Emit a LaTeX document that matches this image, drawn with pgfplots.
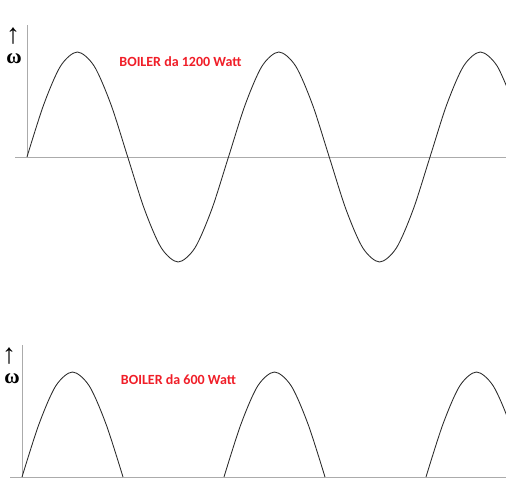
\documentclass[border=0pt]{standalone}
\usepackage{pgfplots}
\pgfplotsset{compat=1.18}
\usepackage{fontspec}
\setmainfont{Liberation Serif}
\newfontfamily\labelfont{Carlito}
\definecolor{curve}{HTML}{2A2A2A}
\definecolor{axisgray}{HTML}{ABABAB}
\definecolor{boilerred}{HTML}{F01E28}

\pgfplotsset{
  wave/.style={scale only axis, anchor=south west, hide axis, clip=true},
  onda/.style={curve, line width=0.85pt, smooth, no marks},
}

\begin{document}
\begin{tikzpicture}[x=1pt,y=1pt]
\path (0,0) rectangle (506,500);

% 1200 W: full sine
\begin{axis}[wave, at={(15pt,227.5pt)}, width=491pt, height=247.8pt,
  xmin=-21.4, xmax=855.8, ymin=-1.1, ymax=1.26]
  \draw[axisgray, line width=0.9pt] (axis cs:-21.4,0) -- (axis cs:855.8,0);
  \draw[axisgray, line width=0.9pt] (axis cs:0,0) -- (axis cs:0,1.257);
  \addplot[onda] coordinates {
    (0,0) (30,0.5) (60,0.866) (90,1) (120,0.866) (150,0.5)
    (180,0) (210,-0.5) (240,-0.866) (270,-1) (300,-0.866) (330,-0.5)
    (360,0) (390,0.5) (420,0.866) (450,1) (480,0.866) (510,0.5)
    (540,0) (570,-0.5) (600,-0.866) (630,-1) (660,-0.866) (690,-0.5)
    (720,0) (750,0.5) (780,0.866) (810,1) (840,0.866) (870,0.5)
  };
\end{axis}

% 600 W: half wave
\begin{axis}[wave, at={(10pt,12.5pt)}, width=496pt, height=142.8pt,
  xmin=-21.4, xmax=862.6, ymin=-0.1, ymax=1.26]
  \draw[axisgray, line width=0.9pt] (axis cs:-21.4,0) -- (axis cs:862.6,0);
  \draw[axisgray, line width=0.9pt] (axis cs:0,0) -- (axis cs:0,1.257);
  \addplot[onda] coordinates {
    (0,0) (30,0.5) (60,0.866) (90,1) (120,0.866) (150,0.5) (180,0)
  };
  \addplot[onda] coordinates {
    (360,0) (390,0.5) (420,0.866) (450,1) (480,0.866) (510,0.5) (540,0)
  };
  \addplot[onda] coordinates {
    (720,0) (750,0.5) (780,0.866) (810,1) (840,0.866) (870,0.5) (900,0)
  };
\end{axis}

% labels
\node[text=boilerred, font=\labelfont\bfseries\fontsize{14}{16}\selectfont]
  at (180.5,438) {BOILER da 1200 Watt};
\node[text=boilerred, font=\labelfont\bfseries\fontsize{14}{16}\selectfont]
  at (178.5,120) {BOILER da 600 Watt};
\node[inner sep=0pt, font=\fontsize{28}{30}\selectfont] at (13,464) {↑};
\node[inner sep=0pt, font=\bfseries\fontsize{21}{24}\selectfont] at (14,441) {ω};
\node[inner sep=0pt, font=\fontsize{28}{30}\selectfont] at (9,144) {↑};
\node[inner sep=0pt, font=\bfseries\fontsize{21}{24}\selectfont] at (12,121) {ω};
\end{tikzpicture}
\end{document}
